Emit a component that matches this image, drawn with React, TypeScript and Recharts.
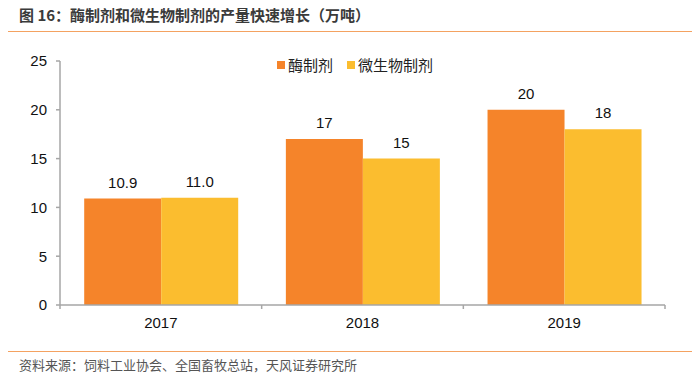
import { Bar, BarChart, LabelList, Legend, XAxis, YAxis } from "recharts";

const YEARS = ["2017", "2018", "2019"];
const ENZYME = [10.9, 17, 20];
const MICROBE = [11.0, 15, 18];
const ENZYME_LABELS = ["10.9", "17", "20"];
const MICROBE_LABELS = ["11.0", "15", "18"];
const Y_TICKS = [0, 5, 10, 15, 20, 25];

const SERIES = [
	{ key: "enzyme", name: "酶制剂", color: "#F5842A" },
	{ key: "microbe", name: "微生物制剂", color: "#FBBD2F" },
];

const CJK = '"Noto Sans CJK SC", "Noto Sans", sans-serif';
const NUM = '"Liberation Sans", Arial, sans-serif';
const AXIS = "#A6A6A6";

const WIDTH = 700;
const HEIGHT = 376;
const MARGIN = { top: 61, right: 35, left: 0, bottom: 41 };
const Y_WIDTH = 60;

const data = YEARS.map((year, i) => ({
	year,
	enzyme: ENZYME[i],
	microbe: MICROBE[i],
	enzymeLabel: ENZYME_LABELS[i],
	microbeLabel: MICROBE_LABELS[i],
}));

const band = (WIDTH - MARGIN.left - Y_WIDTH - MARGIN.right) / YEARS.length;

function XTick(props: any) {
	const { x, y, payload, index } = props;
	const axisY = y - 12;
	return (
		<g>
			<line x1={x - band / 2} x2={x - band / 2} y1={axisY} y2={axisY + 4} stroke={AXIS} strokeWidth={1.5} />
			{index === YEARS.length - 1 && (
				<line x1={x + band / 2} x2={x + band / 2} y1={axisY} y2={axisY + 4} stroke={AXIS} strokeWidth={1.5} />
			)}
			<text x={x} y={y} dy="0.71em" textAnchor="middle" fill="#111" fontSize={15} fontFamily={NUM}>
				{payload.value}
			</text>
		</g>
	);
}

function LegendContent() {
	return (
		<div style={{ display: "flex", alignItems: "center", fontFamily: CJK, fontSize: 15, color: "#222" }}>
			{SERIES.map((s) => (
				<div key={s.key} style={{ display: "flex", alignItems: "center", marginRight: 14 }}>
					<span style={{ width: 8, height: 8, background: s.color, marginRight: 3, display: "inline-block" }} />
					<span style={{ lineHeight: "18px" }}>{s.name}</span>
				</div>
			))}
		</div>
	);
}

export default function App() {
	return (
		<div style={{ position: "absolute", left: 0, top: 0, width: WIDTH, height: HEIGHT, background: "#fff" }}>
			<div
				style={{
					position: "absolute",
					left: 19,
					top: 5,
					fontFamily: CJK,
					fontWeight: 700,
					fontSize: 15,
					lineHeight: "20px",
					color: "#3a3a3a",
					whiteSpace: "nowrap",
				}}
			>
				图 16：酶制剂和微生物制剂的产量快速增长（万吨）
			</div>
			<div style={{ position: "absolute", left: 8, top: 31, width: 684, height: 0, borderTop: "1.5px solid #F4A261" }} />

			<div style={{ position: "absolute", left: 0, top: 0 }}>
				<BarChart width={WIDTH} height={HEIGHT} data={data} margin={MARGIN} barCategoryGap="12%" barGap={0}>
					<XAxis
						dataKey="year"
						height={30}
						stroke={AXIS}
						strokeWidth={1.5}
						tickLine={false}
						tickSize={4}
						tickMargin={8}
						tick={<XTick />}
					/>
					<YAxis
						width={Y_WIDTH}
						domain={[0, 25]}
						ticks={Y_TICKS}
						interval={0}
						stroke={AXIS}
						strokeWidth={1.5}
						tickSize={4}
						tickMargin={9}
						tick={{ fill: "#111", fontSize: 15, fontFamily: NUM }}
					/>
					<Legend
						verticalAlign="middle"
						align="center"
						layout="horizontal"
						wrapperStyle={{ left: 277, top: 56, width: 220 }}
						content={<LegendContent />}
					/>
					{SERIES.map((s) => (
						<Bar key={s.key} dataKey={s.key} name={s.name} fill={s.color} isAnimationActive={false}>
							<LabelList
								dataKey={`${s.key}Label`}
								position="top"
								offset={11}
								fill="#111"
								fontSize={15}
								fontFamily={NUM}
							/>
						</Bar>
					))}
				</BarChart>
			</div>

			<div style={{ position: "absolute", left: 8, top: 351, width: 684, height: 0, borderTop: "1.5px solid #F4A261" }} />
			<div
				style={{
					position: "absolute",
					left: 19,
					top: 356,
					fontFamily: CJK,
					fontSize: 13,
					lineHeight: "18px",
					color: "#555",
					whiteSpace: "nowrap",
				}}
			>
				资料来源：饲料工业协会、全国畜牧总站，天风证券研究所
			</div>
		</div>
	);
}
